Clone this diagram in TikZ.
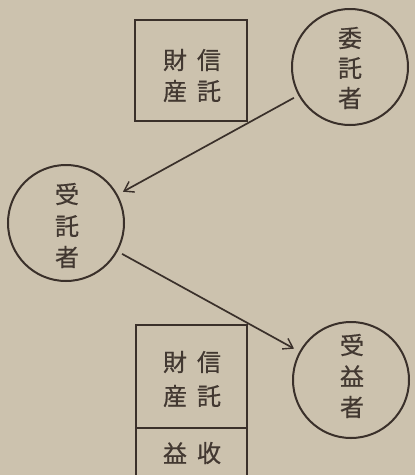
\documentclass[tikz,border=0pt]{standalone}
\usepackage{fontspec}
\newfontfamily\jp[FakeBold=0.6]{Noto Sans CJK JP}
\usetikzlibrary{arrows.meta}
\definecolor{paper}{RGB}{204,194,174}
\definecolor{ink}{RGB}{58,48,42}
\definecolor{textink}{RGB}{66,56,49}
\begin{document}
\begin{tikzpicture}[x=1pt,y=-1pt,
  party/.style={circle,draw=ink,line width=2pt,minimum size=116pt,inner sep=0pt},
  ch/.style={text=textink,font=\jp\fontsize{24}{30}\selectfont,inner sep=0pt,anchor=center},
  boxline/.style={draw=ink,line width=1.7pt},
  arr/.style={draw=ink,line width=1.7pt,-{Straight Barb[length=9pt,width=12pt,line width=1.4pt]},shorten <=5pt,shorten >=6pt}]
\fill[paper] (0,0) rectangle (415,475);
\useasboundingbox (0,0) rectangle (415,475);
% top box: trust property
\path[boxline] (135,20) rectangle (247,121);
\node[ch] (t1) at (209,60) {信};
\node[ch] (t2) at (209,91) {託};
\node[ch] (t3) at (175,60) {財};
\node[ch] (t4) at (175,91) {産};
% bottom box: trust property + income
\path[boxline] (136,475) -- (136,325) -- (247,325) -- (247,475);
\path[boxline] (136,428) -- (247,428);
\node[ch] (b1) at (209,362) {信};
\node[ch] (b2) at (209,396) {託};
\node[ch] (b3) at (175,362) {財};
\node[ch] (b4) at (175,396) {産};
\node[ch] (b5) at (209,453) {收};
\node[ch] (b6) at (175,453) {益};
% circles
\node[party] (settlor) at (350,67) {};
\node[ch] (s1) at (350,38) {委};
\node[ch] (s2) at (350,68) {託};
\node[ch] (s3) at (350,98) {者};
\node[party] (trustee) at (66,223) {};
\node[ch] (r1) at (67,194) {受};
\node[ch] (r2) at (67,226) {託};
\node[ch] (r3) at (67,257) {者};
\node[party] (benef) at (351,380) {};
\node[ch] (e1) at (352,345) {受};
\node[ch] (e2) at (352,376) {益};
\node[ch] (e3) at (352,407) {者};
% arrows
\draw[arr] (settlor) -- (trustee);
\draw[arr] (trustee) -- (benef);
\end{tikzpicture}
\end{document}
